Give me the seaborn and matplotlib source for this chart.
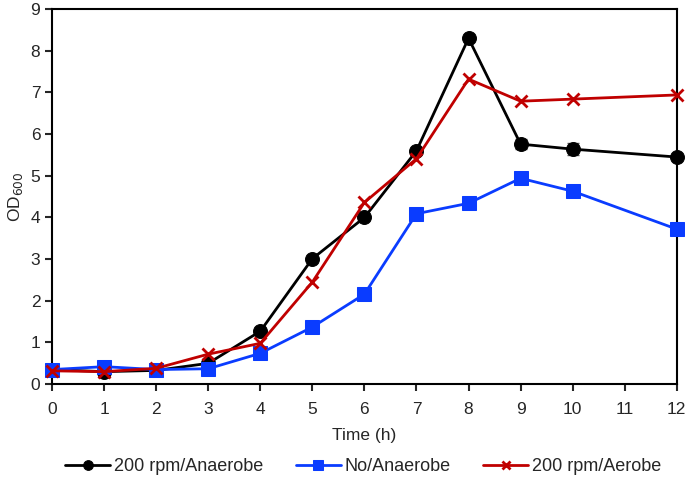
import numpy as np
import pandas as pd
import matplotlib
matplotlib.use("Agg")
import matplotlib.pyplot as plt
import seaborn as sns

time_h = [0, 1, 2, 3, 4, 5, 6, 7, 8, 9, 10, 12]
od_200_anaerobe = [0.35, 0.30, 0.33, 0.50, 1.27, 3.01, 4.00, 5.60, 8.30, 5.76, 5.64, 5.45]
err_200_anaerobe = [0.02, 0.02, 0.02, 0.03, 0.05, 0.05, 0.05, 0.05, 0.05, 0.12, 0.15, 0.05]
od_no_anaerobe = [0.35, 0.42, 0.35, 0.37, 0.74, 1.37, 2.16, 4.09, 4.34, 4.94, 4.63, 3.72]
od_200_aerobe = [0.32, 0.30, 0.38, 0.72, 0.98, 2.45, 4.36, 5.41, 7.32, 6.79, 6.84, 6.94]
xticks = list(range(0, 13))

sns.set_style("ticks")
plt.rcParams["font.family"] = ["Liberation Sans", "DejaVu Sans"]
plt.rcParams["font.size"] = 12

fig, ax = plt.subplots(figsize=(6.85, 4.79), dpi=100)

df = pd.DataFrame({"time": time_h, "od": od_200_anaerobe})
ax.errorbar(time_h, od_200_anaerobe, yerr=err_200_anaerobe, fmt="none",
            ecolor="#555555", elinewidth=1.2, capsize=4, zorder=2)
sns.lineplot(data=df, x="time", y="od", ax=ax, color="black", marker="o",
             markersize=10, markeredgecolor="black", linewidth=2,
             label="200 rpm/Anaerobe", zorder=3, clip_on=False)
sns.lineplot(x=time_h, y=od_no_anaerobe, ax=ax, color="#0a3cff", marker="s",
             markersize=10, markeredgecolor="#0a3cff", linewidth=2,
             label="No/Anaerobe", zorder=3, clip_on=False)
sns.lineplot(x=time_h, y=od_200_aerobe, ax=ax, color="#c00000", marker="x",
             markersize=9, markeredgewidth=2, markeredgecolor="#c00000",
             linewidth=2, label="200 rpm/Aerobe", zorder=4, clip_on=False)

ax.set_xlim(0, 12)
ax.set_ylim(0, 9)
ax.set_xticks(xticks)
ax.set_yticks(range(0, 10))
for s in ax.spines.values():
    s.set_linewidth(1.5)
    s.set_color("black")
ax.tick_params(direction="out", length=5, width=1.5, labelsize=12.5)
ax.tick_params(axis="x", pad=8)
ax.set_xlabel("Time (h)", fontsize=12.5, labelpad=8)
ax.set_ylabel("OD$_{600}$", fontsize=12.5)

handles, labels = ax.get_legend_handles_labels()
ax.get_legend().remove()
fig.legend(handles, labels, loc="center", bbox_to_anchor=(0.53, 0.026), ncol=3,
           frameon=False, fontsize=13, handlelength=2.5, columnspacing=1.8,
           handletextpad=0.2, markerscale=0.7)

plt.subplots_adjust(left=0.076, right=0.988, top=0.981, bottom=0.198)
plt.savefig("out.png", dpi=100)
